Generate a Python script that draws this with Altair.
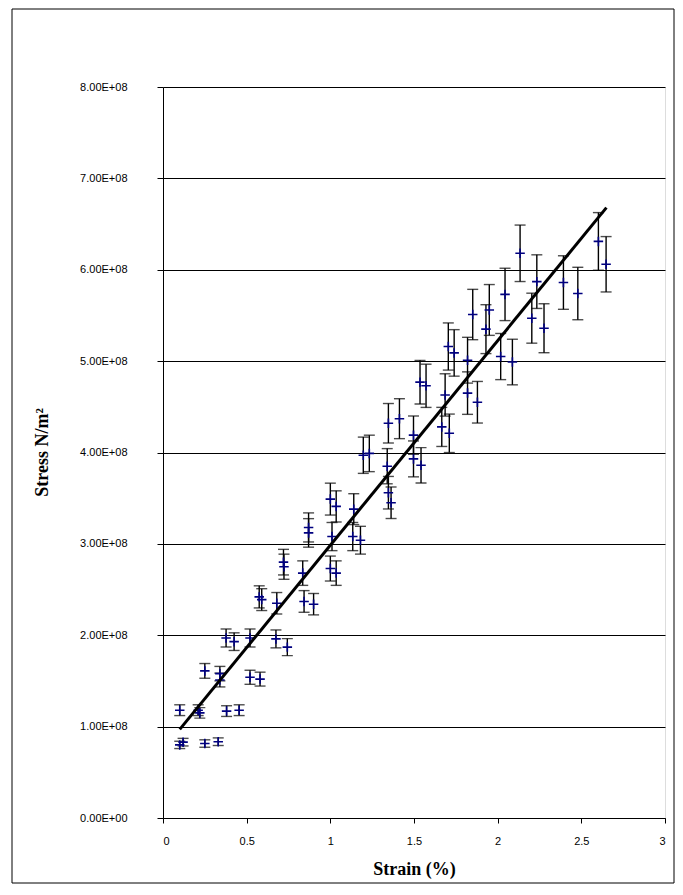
import altair as alt
import pandas as pd

# Measured data points (strain in %, stress in N/m^2)
strain = [0.10, 0.12, 0.25, 0.33, 0.10, 0.21, 0.22, 0.38, 0.455, 0.25,
          0.34, 0.34, 0.52, 0.58, 0.377, 0.425, 0.52, 0.675, 0.743, 0.575,
          0.59, 0.68, 0.72, 0.723, 0.835, 0.843, 0.90, 0.87, 0.87, 1.00,
          1.035, 1.01, 1.00, 1.035, 1.14, 1.134, 1.18, 1.197, 1.233, 1.34,
          1.347, 1.363, 1.347, 1.413, 1.497, 1.497, 1.542, 1.536, 1.572, 1.686,
          1.666, 1.711, 1.705, 1.74, 1.82, 1.82, 1.879, 1.851, 1.93, 1.95,
          2.044, 2.018, 2.088, 2.134, 2.234, 2.204, 2.277, 2.393, 2.479, 2.602,
          2.648]
stress = [0.80e8, 0.83e8, 0.815e8, 0.835e8, 1.18e8, 1.18e8, 1.15e8, 1.17e8, 1.18e8, 1.61e8,
          1.58e8, 1.51e8, 1.54e8, 1.52e8, 1.97e8, 1.93e8, 1.97e8, 1.96e8, 1.87e8, 2.42e8,
          2.39e8, 2.35e8, 2.80e8, 2.75e8, 2.68e8, 2.37e8, 2.34e8, 3.18e8, 3.12e8, 2.73e8,
          2.68e8, 3.08e8, 3.49e8, 3.41e8, 3.38e8, 3.08e8, 3.04e8, 3.97e8, 3.99e8, 3.85e8,
          3.56e8, 3.45e8, 4.32e8, 4.37e8, 4.19e8, 3.93e8, 3.86e8, 4.77e8, 4.73e8, 4.63e8,
          4.28e8, 4.21e8, 5.16e8, 5.09e8, 5.01e8, 4.65e8, 4.55e8, 5.51e8, 5.35e8, 5.56e8,
          5.73e8, 5.05e8, 4.99e8, 6.18e8, 5.87e8, 5.47e8, 5.36e8, 5.86e8, 5.74e8, 6.31e8,
          6.06e8]
error_pct = 5.0  # error bars: +/- 5 %

# Trend line end points
trend_strain = [0.10, 2.65]
trend_stress = [0.97e8, 6.68e8]

x_ticks = [0, 0.5, 1, 1.5, 2, 2.5, 3]
y_ticks = [0, 1e8, 2e8, 3e8, 4e8, 5e8, 6e8, 7e8, 8e8]

df = pd.DataFrame({"strain": strain, "stress": stress})
df["lo"] = df["stress"] * (1 - error_pct / 100)
df["hi"] = df["stress"] * (1 + error_pct / 100)
trend = pd.DataFrame({"strain": trend_strain, "stress": trend_stress})

xscale = alt.Scale(domain=[0, 3], nice=False)
yscale = alt.Scale(domain=[0, 8e8], nice=False)

xaxis = alt.Axis(values=x_ticks, title="Strain  (%)", grid=False, format="~g",
                 labelFont="Liberation Sans", labelFontSize=11, labelColor="#000",
                 labelPadding=12, tickSize=5, tickColor="#000", domainColor="#000",
                 titleFont="Liberation Serif", titleFontSize=18, titleFontWeight="bold",
                 titleColor="#000", titleY=51, titleBaseline="middle")
yaxis = alt.Axis(values=y_ticks, title="Stress N/m²", grid=True, gridColor="#000",
                 gridWidth=1,
                 labelExpr="datum.value == 0 ? '0.00E+00' : format(datum.value / 1e8, '.2f') + 'E+08'",
                 labelFont="Liberation Sans", labelFontSize=11, labelColor="#000",
                 labelPadding=30, tickSize=6, tickColor="#000", domainColor="#000",
                 titleFont="Liberation Serif", titleFontSize=18, titleFontWeight="bold",
                 titleColor="#000", titleX=-121, titleY=365, titleAngle=-90,
                 titleAlign="center", titleBaseline="middle")

base = alt.Chart(df)

bars = base.mark_rule(color="#000", strokeWidth=1.4).encode(
    x=alt.X("strain:Q", scale=xscale, axis=xaxis),
    y=alt.Y("lo:Q", scale=yscale, axis=yaxis),
    y2="hi:Q",
)
cap_lo = base.mark_tick(color="#000", size=11, thickness=1.4, orient="horizontal").encode(
    x=alt.X("strain:Q", scale=xscale), y=alt.Y("lo:Q", scale=yscale))
cap_hi = base.mark_tick(color="#000", size=11, thickness=1.4, orient="horizontal").encode(
    x=alt.X("strain:Q", scale=xscale), y=alt.Y("hi:Q", scale=yscale))

pts = base.mark_point(shape="M-1,0H1M0,-1V1", size=90, stroke="#000080",
                      strokeWidth=1.6, filled=False, opacity=1).encode(
    x=alt.X("strain:Q", scale=xscale), y=alt.Y("stress:Q", scale=yscale))

line = alt.Chart(trend).mark_line(color="#000", strokeWidth=3).encode(
    x=alt.X("strain:Q", scale=xscale), y=alt.Y("stress:Q", scale=yscale))

frame = alt.Chart(pd.DataFrame({"a": [0]})).mark_rect(
    fill="white", fillOpacity=0, stroke="#000", strokeWidth=1).encode(
    x=alt.value(-151), x2=alt.value(511), y=alt.value(-78), y2=alt.value(796))

chart = alt.layer(frame, bars, cap_lo, cap_hi, pts, line).properties(
    width=502, height=731,
    autosize=alt.AutoSizeParams(type="none"),
    padding={"left": 155, "top": 79, "right": 10, "bottom": 66},
).configure_view(stroke="#000", strokeWidth=1).configure(background="white")

chart.save("out.html", embed_options={"renderer": "svg", "actions": False})
